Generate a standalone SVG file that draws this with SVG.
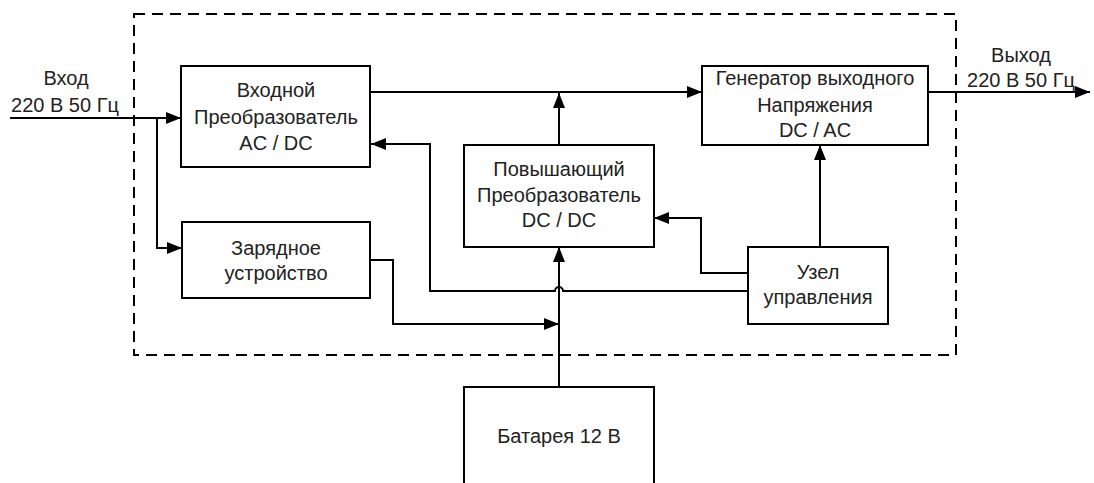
<svg xmlns="http://www.w3.org/2000/svg" width="1094" height="483" viewBox="0 0 1094 483">
<defs>
<marker id="ah" markerWidth="16" markerHeight="12" refX="15" refY="6" orient="auto" markerUnits="userSpaceOnUse">
<path d="M0,0 L15,6 L0,12 Z" fill="#000"/>
</marker>
<style>
.box{fill:#fff;stroke:#000;stroke-width:2}
.ln{fill:none;stroke:#000;stroke-width:2}
.ar{fill:none;stroke:#000;stroke-width:2;marker-end:url(#ah)}
.t{font-family:"Liberation Sans",Arial,sans-serif;font-size:20px;fill:#222;text-anchor:middle}
</style>
</defs>
<rect width="1094" height="483" fill="#fff"/>
<rect id="frame" x="134" y="14" width="822" height="341" fill="none" stroke="#000" stroke-width="2" stroke-dasharray="11,7"/>
<g id="connectors">
<path class="ar" d="M10,118 H181"/>
<path class="ar" d="M157,118 V248 H182"/>
<path class="ar" d="M370,92 H702"/>
<path class="ar" d="M928,92 H1090"/>
<path class="ar" d="M559,145 V93"/>
<path class="ar" d="M748,291 H563 A4,4 0 0 0 555,291 H430 V144 H371"/>
<path class="ar" d="M748,273 H701 V218 H654"/>
<path class="ar" d="M820,247 V145"/>
<path class="ar" d="M370,260 H393 V324 H559"/>
<path class="ar" d="M559,387 V247"/>
</g>
<g id="input-label"><text class="t" x="66" y="85">Вход</text><text class="t" x="65" y="112">220 В 50 Гц</text></g>
<g id="output-label"><text class="t" x="1021" y="62">Выход</text><text class="t" x="1021" y="87">220 В 50 Гц</text></g>
<g id="input-conv"><rect class="box" x="181" y="66" width="189" height="101"/><text class="t" x="276" y="97">Входной</text><text class="t" x="276" y="124">Преобразователь</text><text class="t" x="276" y="150">AC / DC</text></g>
<g id="charger"><rect class="box" x="182" y="222" width="188" height="76"/><text class="t" x="276" y="255">Зарядное</text><text class="t" x="276" y="280">устройство</text></g>
<g id="boost"><rect class="box" x="464" y="145" width="190" height="102"/><text class="t" x="559" y="176">Повышающий</text><text class="t" x="559" y="202">Преобразователь</text><text class="t" x="559" y="227">DC / DC</text></g>
<g id="generator"><rect class="box" x="702" y="66" width="226" height="79"/><text class="t" x="815" y="85">Генератор выходного</text><text class="t" x="815" y="112">Напряжения</text><text class="t" x="815" y="137">DC / AC</text></g>
<g id="control"><rect class="box" x="748" y="247" width="140" height="77"/><text class="t" x="818" y="279">Узел</text><text class="t" x="818" y="304">управления</text></g>
<g id="battery"><rect class="box" x="464" y="387" width="190" height="110"/><text class="t" x="559" y="443">Батарея 12 В</text></g>
</svg>
